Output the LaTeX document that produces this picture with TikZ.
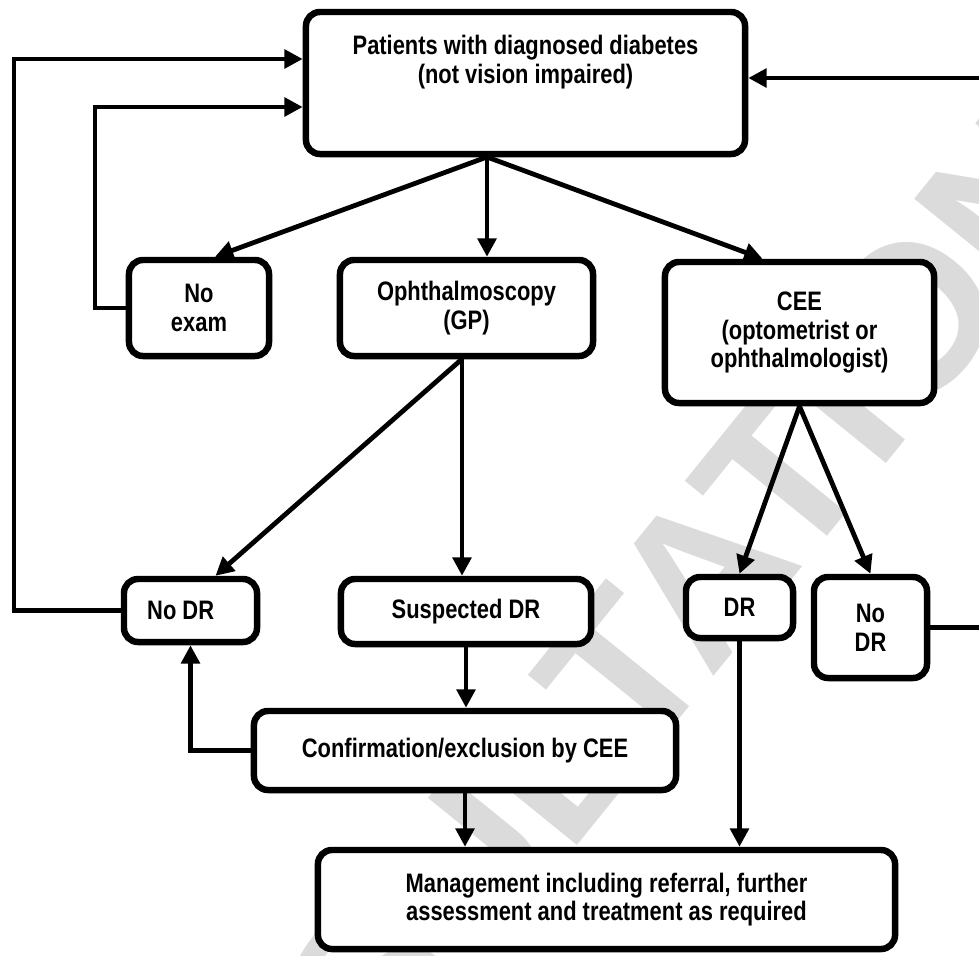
\documentclass[tikz,border=0pt]{standalone}
\usepackage{fontspec}
\setmainfont{Liberation Sans}[FakeStretch=0.82]
\newfontfamily\markfont{Liberation Sans}
\usetikzlibrary{arrows.meta, positioning, calc}

\begin{document}
\begin{tikzpicture}[
  x=0.025cm, y=-0.025cm,
  box/.style={rectangle, draw=black, line width=4.6pt, rounded corners=10pt,
    fill=white, align=center, inner sep=0pt,
    font=\bfseries\fontsize{19pt}{20.5pt}\selectfont},
  txt/.style={align=center, inner sep=0pt,
    font=\bfseries\fontsize{19pt}{20.5pt}\selectfont},
  conn/.style={->, line width=3.4pt},
  >={Triangle[length=13pt, width=13pt]}
]
  \useasboundingbox (0,0) rectangle (979,955);

  % watermark behind everything
  \node[rotate=51, text=black!14, inner sep=0pt,
    font=\markfont\bfseries\fontsize{150pt}{150pt}\selectfont] (mark) at (545,770) {CONSULTATION};

  % boxes
  \node[box, minimum width=10.975cm, minimum height=3.55cm] (pat) at (525.5,83) {};
  \node[txt] (pat-txt) at (525.5,62) {Patients with diagnosed diabetes\\(not vision impaired)};
  \node[box, minimum width=3.5cm, minimum height=2.4cm] (noexam) at (199,308) {No\\exam};
  \node[box, minimum width=6.325cm, minimum height=2.4cm] (oph) at (466.5,308) {Ophthalmoscopy\\(GP)};
  \node[box, minimum width=6.725cm, minimum height=3.525cm] (cee) at (799.5,332.5) {CEE\\(optometrist or\\ophthalmologist)};
  \node[box, minimum width=3.325cm, minimum height=1.575cm] (nodrL) at (190.5,610.5) {No DR\hspace{14pt}};
  \node[box, minimum width=6.25cm, minimum height=1.625cm] (susp) at (466,611.5) {Suspected DR};
  \node[box, minimum width=2.675cm, minimum height=1.525cm] (dr) at (739.5,607.5) {DR};
  \node[box, minimum width=2.825cm, minimum height=2.525cm] (nodrR) at (870.5,627.5) {No\\DR};
  \node[box, minimum width=10.55cm, minimum height=1.975cm] (conf) at (465,750.5) {Confirmation/exclusion by CEE};
  \node[box, minimum width=14.425cm, minimum height=2.475cm] (mgmt) at (606.5,899.5) {Management including referral, further\\assessment and treatment as required};

  % branch points and loop corners
  \coordinate (split) at (487,157);
  \coordinate (ophsplit) at (462,359);
  \coordinate (loopL) at (14,59);
  \coordinate (loopM) at (95,107);
  \coordinate (loopR) at (995,78);

  \draw[conn] (split) -- ($(noexam.north)+(16,0)$);
  \draw[conn] (split) -- (split |- oph.north);
  \draw[conn] (split) -- ($(cee.north)+(-37,0)$);
  \draw[conn] (ophsplit) -- ($(nodrL.north)+(25,0)$);
  \draw[conn] (ophsplit) -- (ophsplit |- susp.north);
  \draw[conn] (cee.south) -- (dr.north);
  \draw[conn] (cee.south) -- (nodrR.north);
  \draw[conn] (susp.south) -- (susp.south |- conf.north);
  \draw[conn] (conf.west) -| (nodrL.south);
  \draw[conn] (conf.south) -- (conf.south |- mgmt.north);
  \draw[conn] (dr.south) -- (dr.south |- mgmt.north);
  \draw[conn] (nodrL.west) -| (loopL) -- (loopL -| pat.west);
  \draw[conn] (noexam.west) -| (loopM) -- (loopM -| pat.west);
  \draw[conn] (nodrR.east) -| (loopR) -- (loopR -| pat.east);
\end{tikzpicture}
\end{document}
